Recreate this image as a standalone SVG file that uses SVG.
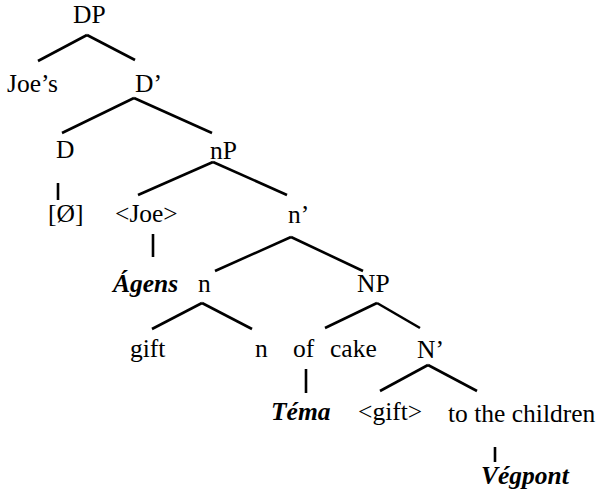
<svg xmlns="http://www.w3.org/2000/svg" width="599" height="497" viewBox="0 0 599 497">
<style>
text{font-family:"Liberation Serif","Times New Roman",serif;font-size:25.5px;fill:#000}
.r{font-weight:bold;font-style:italic}
.e line{stroke:#000;stroke-width:2.6;stroke-linecap:butt}
</style>
<rect width="599" height="497" fill="#fff"/>
<g id="connectors" class="e">
<line x1="87" y1="35" x2="38" y2="61"/>
<line x1="87" y1="35" x2="135" y2="60"/>
<line x1="134" y1="98" x2="62" y2="133"/>
<line x1="134" y1="98" x2="212" y2="133"/>
<line x1="58" y1="183" x2="58" y2="200"/>
<line x1="213" y1="162" x2="138" y2="195"/>
<line x1="213" y1="162" x2="287" y2="195"/>
<line x1="153" y1="234" x2="153" y2="257"/>
<line x1="291" y1="237" x2="215" y2="271"/>
<line x1="291" y1="237" x2="363" y2="271"/>
<line x1="202" y1="303" x2="152" y2="329"/>
<line x1="202" y1="303" x2="252" y2="329"/>
<line x1="377" y1="303" x2="325" y2="328"/>
<line x1="377" y1="303" x2="420" y2="328"/>
<line x1="306" y1="369" x2="306" y2="393"/>
<line x1="428" y1="365" x2="380" y2="391"/>
<line x1="428" y1="365" x2="477" y2="391"/>
<line x1="495" y1="447" x2="495" y2="462"/>
</g>
<g id="DP"><text x="73" y="23">DP</text></g>
<g id="Joes"><text x="7" y="92">Joe’s</text></g>
<g id="Dbar"><text x="135" y="92">D’</text></g>
<g id="D"><text x="56" y="158">D</text></g>
<g id="nP"><text x="210" y="159">nP</text></g>
<g id="null"><text x="48" y="222">[Ø]</text></g>
<g id="Joe"><text x="115" y="222">&lt;Joe&gt;</text></g>
<g id="nbar"><text x="288" y="223">n’</text></g>
<g id="Agens"><text class="r" x="113" y="292">Ágens</text></g>
<g id="n1"><text x="198" y="292">n</text></g>
<g id="NP"><text x="357" y="292">NP</text></g>
<g id="gift"><text x="130" y="357">gift</text></g>
<g id="n2"><text x="255" y="357">n</text></g>
<g id="of"><text x="293" y="357">of</text></g>
<g id="cake"><text x="330" y="357">cake</text></g>
<g id="Nbar"><text x="417" y="358">N’</text></g>
<g id="Tema"><text class="r" x="271" y="420">Téma</text></g>
<g id="gift2"><text x="358" y="420">&lt;gift&gt;</text></g>
<g id="children"><text x="448" y="422">to the children</text></g>
<g id="Vegpont"><text class="r" x="481" y="484">Végpont</text></g>
</svg>
